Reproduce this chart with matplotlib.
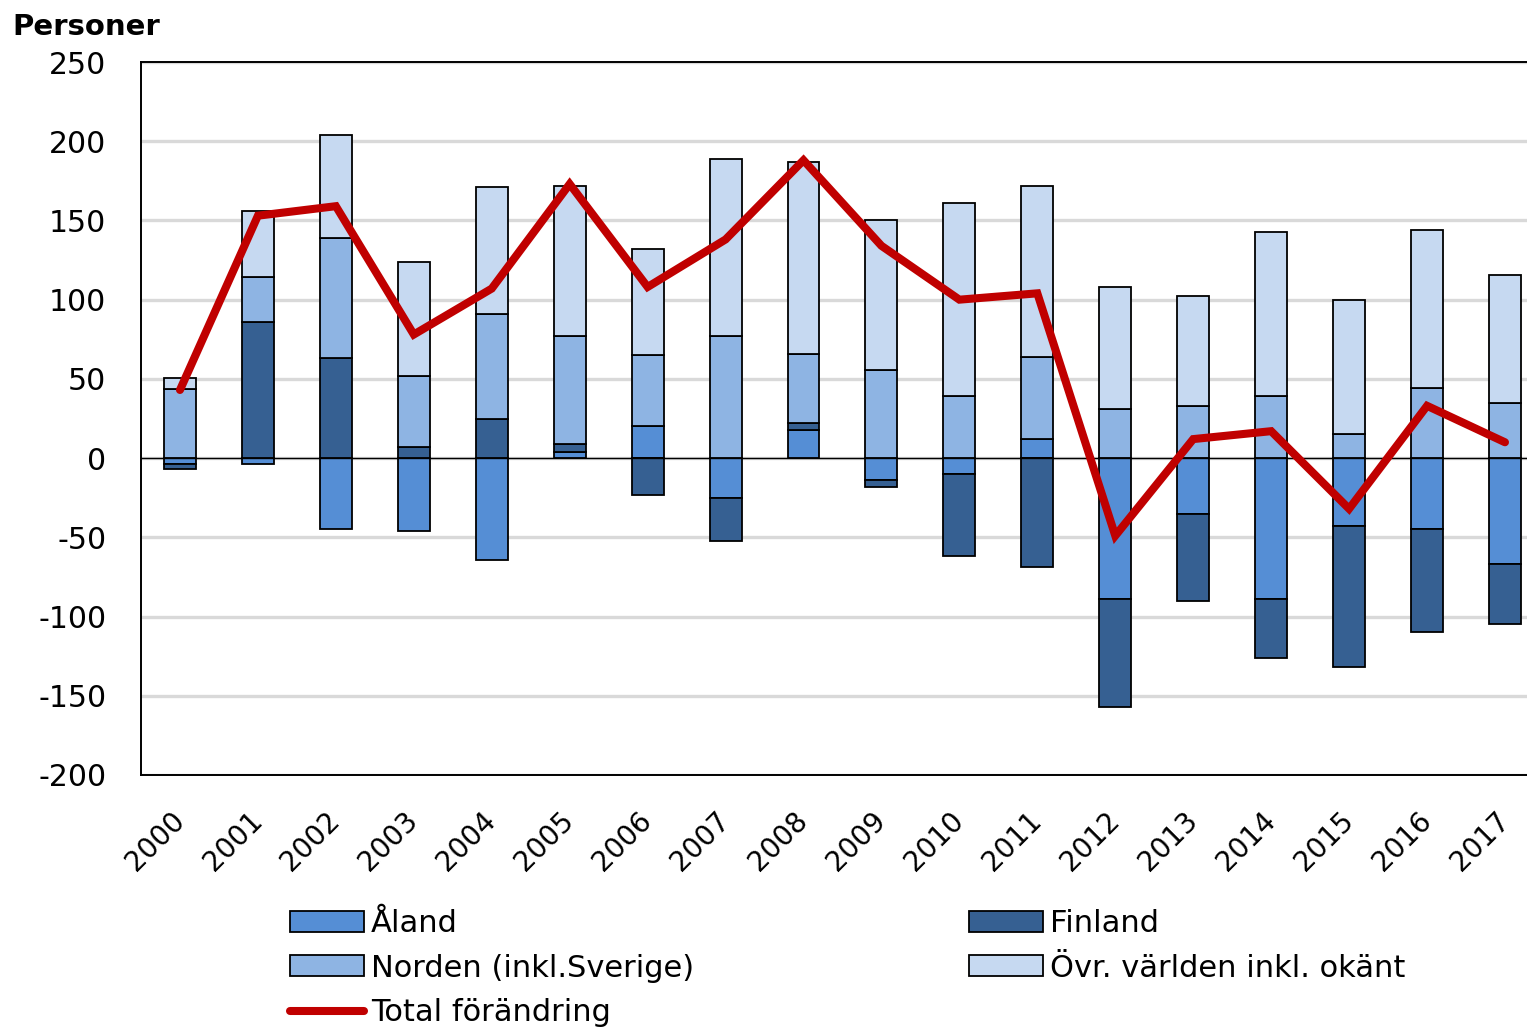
import matplotlib
matplotlib.use("Agg")
import matplotlib.pyplot as plt
import numpy as np
from matplotlib.patches import Patch
from matplotlib.lines import Line2D

plt.rcParams['font.family'] = ['DejaVu Sans']
plt.rcParams['axes.unicode_minus'] = False

years = [str(y) for y in range(2000, 2018)]
aland   = [-4, -4, -45, -46, -64, 4, 20, -25, 18, -14, -10, 12, -89, -35, -89, -43, -45, -67]
finland = [-3, 86, 63, 7, 25, 5, -23, -27, 4, -4, -52, -69, -68, -55, -37, -89, -65, -38]
norden  = [43.5, 28, 76, 45, 66, 68, 45, 77, 43.5, 55.5, 39, 52, 31, 33, 39, 15, 44, 34.5]
ovrigt  = [7, 42, 65, 72, 80, 95, 67, 112, 121.5, 95, 122, 108, 77, 69, 104, 85, 100, 81]
total   = [43, 153, 159, 78, 107, 173, 108, 138, 188, 134, 100, 104, -49, 12, 17, -32, 33, 10]

series_names = ['Åland', 'Finland', 'Norden (inkl.Sverige)', 'Övr. världen inkl. okänt']
series_vals = [aland, finland, norden, ovrigt]
colors = ['#558ED5', '#366092', '#8EB4E3', '#C6D9F1']
line_color = '#C00000'

W, H = 1527, 1029
fig = plt.figure(figsize=(W / 100, H / 100), dpi=100)
ax = fig.add_axes([141 / W, 1 - 775 / H, (W - 141) / W, (775 - 62) / H])

x = np.arange(len(years))
pos_base = np.zeros(len(years))
neg_base = np.zeros(len(years))
bw = 0.41
for vals, c in zip(series_vals, colors):
    v = np.array(vals, dtype=float)
    bottoms = np.where(v >= 0, pos_base, neg_base)
    ax.bar(x, v, bw, bottom=bottoms, color=c, edgecolor='black', linewidth=1.3, zorder=3)
    pos_base = pos_base + np.where(v >= 0, v, 0)
    neg_base = neg_base + np.where(v < 0, v, 0)

ax.plot(x, total, color=line_color, linewidth=5.8, zorder=5, solid_capstyle='round', solid_joinstyle='miter')
ax.axhline(0, color='black', linewidth=1.0, zorder=4)

ax.set_ylim(-200, 250)
ax.set_yticks(np.arange(-200, 251, 50))
ax.set_xlim(-0.5, (W - 180) / 77.94)
ax.set_xticks(x)
ax.set_xticklabels(years, rotation=45, ha='right', va='center', rotation_mode='anchor', fontsize=20)
ax.tick_params(axis='both', length=0, colors='black')
ax.tick_params(axis='y', pad=25, labelsize=21.5)
ax.tick_params(axis='x', pad=30)
ax.yaxis.grid(True, color='#D9D9D9', linewidth=2.4, zorder=0)
ax.set_axisbelow(True)
for s in ['left', 'bottom', 'top']:
    ax.spines[s].set_linewidth(1.4)
    ax.spines[s].set_color('black')
ax.spines['right'].set_visible(False)

fig.text(12 / W, 1 - 27 / H, 'Personer', fontsize=21, fontweight='bold', va='center', ha='left')

def patch(c):
    return Patch(facecolor=c, edgecolor='black', linewidth=1.3)

h1 = [patch(colors[0]), patch(colors[2]), Line2D([0], [0], color=line_color, linewidth=5.8, solid_capstyle='round')]
l1 = [series_names[0], series_names[2], 'Total förändring']
h2 = [patch(colors[1]), patch(colors[3])]
l2 = [series_names[1], series_names[3]]

common = dict(frameon=False, fontsize=22, handlelength=2.42, handleheight=0.69,
              handletextpad=0.23, labelspacing=0.51, borderpad=0, borderaxespad=0, loc='upper left')
leg1 = fig.legend(h1, l1, bbox_to_anchor=(290 / W, 1 - 909 / H), **common)
leg2 = fig.legend(h2, l2, bbox_to_anchor=(969 / W, 1 - 909 / H), **common)

fig.savefig('out.png', dpi=100)
